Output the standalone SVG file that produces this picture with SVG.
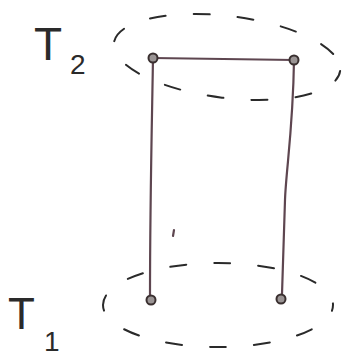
<svg xmlns="http://www.w3.org/2000/svg" width="350" height="360" viewBox="0 0 350 360">
<style>
.dash{fill:none;stroke:#2a2a2a;stroke-width:2;stroke-linecap:round;stroke-dasharray:16 28}
.edge{fill:none;stroke:#5e4650;stroke-width:2.2;stroke-linecap:round}
.pt{fill:#9a9494;stroke:#3a3030;stroke-width:2}
.lbl{font-family:"Liberation Sans",Arial,sans-serif;fill:#2a2a2a}
</style>
<rect width="350" height="360" fill="#ffffff"/>
<g id="T2">
<ellipse class="dash" cx="227" cy="57" rx="114" ry="41" transform="rotate(7 227 57)" stroke-dashoffset="5"/>
<text class="lbl" x="34" y="60" font-size="46">T</text>
<text class="lbl" x="70" y="74" font-size="28">2</text>
</g>
<g id="T1">
<ellipse class="dash" cx="218" cy="305" rx="115" ry="42" stroke-dashoffset="10"/>
<text class="lbl" x="8" y="329" font-size="44">T</text>
<text class="lbl" x="44" y="351" font-size="28">1</text>
</g>
<g id="connectors">
<path class="edge" d="M153,58 L294,60"/>
<path class="edge" d="M153,58 C152,120 150,200 150,298"/>
<path class="edge" d="M294,60 C293,130 286,170 285,200 C284,240 283,270 282,294"/>
<path class="edge" d="M174,230 L173,236" stroke="#555" stroke-width="1.5"/>
</g>
<g id="n1"><circle class="pt" cx="153" cy="58" r="4.5"/></g>
<g id="n2"><circle class="pt" cx="294" cy="60" r="4.5"/></g>
<g id="n3"><circle class="pt" cx="151" cy="300" r="4.5"/></g>
<g id="n4"><circle class="pt" cx="281" cy="299" r="4.5"/></g>
</svg>
